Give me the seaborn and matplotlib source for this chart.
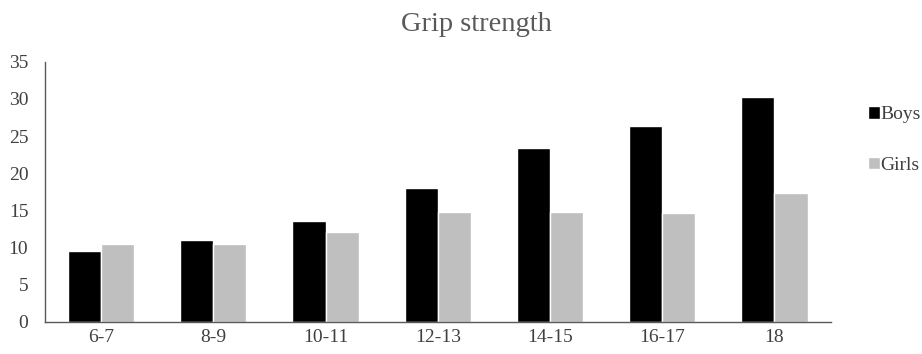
import matplotlib
matplotlib.use("Agg")
import matplotlib.pyplot as plt
import seaborn as sns
import pandas as pd

ages = ["6-7", "8-9", "10-11", "12-13", "14-15", "16-17", "18"]
boys = [9.6, 11.05, 13.6, 18.0, 23.4, 26.4, 30.3]
girls = [10.5, 10.5, 12.1, 14.75, 14.75, 14.65, 17.3]

df = pd.DataFrame({
    "age": ages * 2,
    "value": boys + girls,
    "sex": ["Boys"] * len(ages) + ["Girls"] * len(ages),
})

sns.set_style("white")
plt.rcParams["font.family"] = ["Liberation Serif", "DejaVu Serif"]

fig = plt.figure(figsize=(9.22, 3.54), dpi=100)
ax = fig.add_axes([0.0488, 0.0904, 0.852, 0.735])

sns.barplot(data=df, x="age", y="value", hue="sex", order=ages,
            palette={"Boys": "#000000", "Girls": "#bfbfbf"},
            width=0.59, gap=0, saturation=1, ax=ax, legend=True)

ax.set_ylim(0, 35)
ax.set_xlim(-0.5, 6.5)
ax.set_yticks(range(0, 36, 5))
ax.set_xlabel("")
ax.set_ylabel("")
for s in ["top", "right"]:
    ax.spines[s].set_visible(False)
for s in ["left", "bottom"]:
    ax.spines[s].set_color("#595959")
    ax.spines[s].set_linewidth(1.0)
ax.tick_params(axis="both", length=0, labelsize=14, colors="#404040", pad=5)
ax.tick_params(axis="y", pad=12)

ax.set_title("Grip strength", fontsize=20.5, color="#595959", pad=22, x=0.549)

h, l = ax.get_legend_handles_labels()
ax.legend(h, l, loc="center left", bbox_to_anchor=(1.025, 0.70), frameon=False,
          fontsize=14, handlelength=0.62, handleheight=0.62, handletextpad=0.05,
          labelspacing=1.72, labelcolor="#404040", borderpad=0.4)

fig.savefig("out.png", dpi=100)
